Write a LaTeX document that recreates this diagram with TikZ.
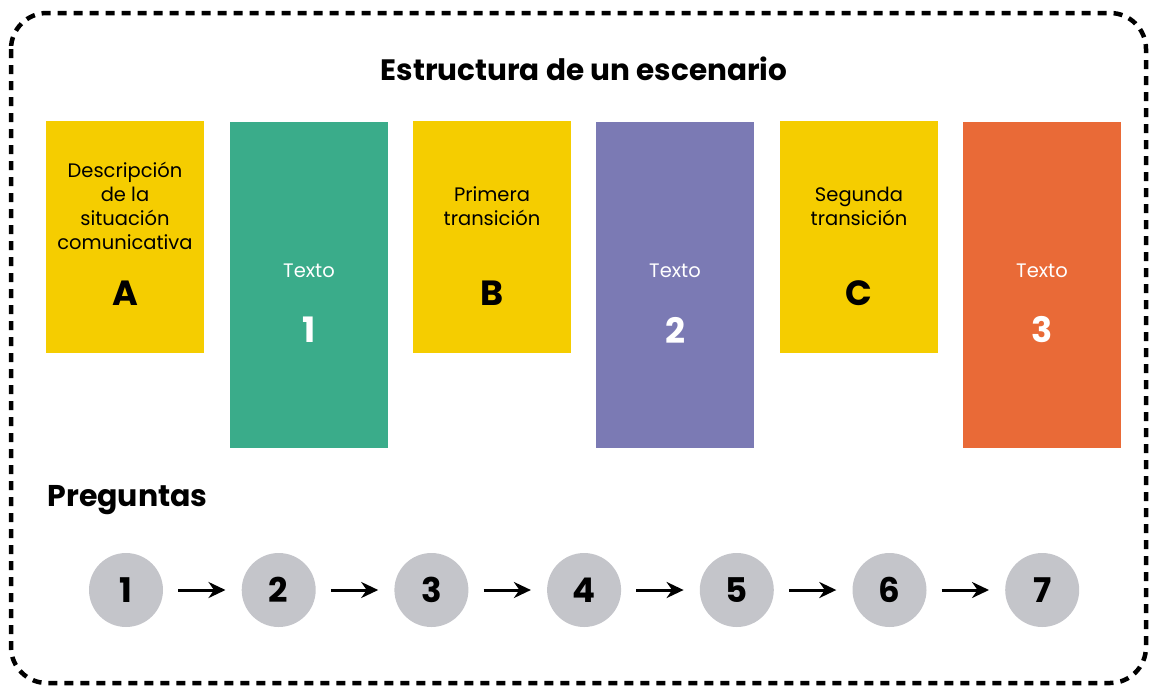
\documentclass[tikz,border=0pt]{standalone}
\usepackage{fontspec}
\setmainfont{Poppins}
\usetikzlibrary{arrows.meta,positioning}
\definecolor{amarillo}{HTML}{F5CD00}
\definecolor{verde}{HTML}{3AAC8A}
\definecolor{morado}{HTML}{7B7AB4}
\definecolor{naranja}{HTML}{E96A37}
\definecolor{gris}{HTML}{C4C5CA}
\tikzset{
  caja/.style={inner sep=0pt, minimum width=158pt},
  cajacorta/.style={caja, minimum height=232pt},
  cajalarga/.style={caja, minimum height=326pt},
  textocaja/.style={align=center, font=\fontsize{19.5}{24}\selectfont},
  letra/.style={font=\fontsize{35}{40}\selectfont\bfseries},
  pregunta/.style={circle, fill=gris, minimum size=74pt, inner sep=0pt, font=\fontsize{34}{40}\selectfont\bfseries},
  flecha/.style={-{Stealth[length=17pt,width=16pt]}, line width=3pt, shorten <=15pt, shorten >=16pt}
}
\begin{document}
\begin{tikzpicture}[x=1pt,y=-1pt]
\useasboundingbox (0,0) rectangle (1156,686);
% borde punteado
\draw[line width=4.5pt, dash pattern=on 9pt off 7pt, rounded corners=36pt] (11,13) rectangle (1146,683);
\node[font=\fontsize{29.5}{32}\selectfont\bfseries] (titulo) at (584,69) {Estructura de un escenario};

% cajas de la estructura
\node[cajacorta, fill=amarillo] (cajaA) at (125,237) {};
\node[cajalarga, fill=verde] (texto1) at (309,285) {};
\node[cajacorta, fill=amarillo] (cajaB) at (492,237) {};
\node[cajalarga, fill=morado] (texto2) at (675,285) {};
\node[cajacorta, fill=amarillo] (cajaC) at (859,237) {};
\node[cajalarga, fill=naranja] (texto3) at (1042,285) {};

\node[textocaja] (descA) at (125,206) {Descripción\\de la\\situación\\comunicativa};
\node[letra] (letraA) at (125,293) {A};
\node[textocaja] (descB) at (492,206) {Primera\\transición};
\node[letra] (letraB) at (492,293) {B};
\node[textocaja] (descC) at (859,206) {Segunda\\transición};
\node[letra] (letraC) at (859,293) {C};

\foreach \n/\x in {1/309,2/675,3/1042}{
  \node[textocaja, text=white] (etiqueta\n) at (\x,271) {Texto};
  \node[letra, text=white] (numero\n) at (\x,330) {\n};
}

% preguntas
\node[anchor=west, font=\fontsize{30}{32}\selectfont\bfseries] (preguntas) at (44,500) {Preguntas};
\foreach \i in {1,...,7}{
  \node[pregunta] (p\i) at ({126+152.7*(\i-1)},590) {\i};
}
\foreach \i [evaluate=\i as \j using int(\i+1)] in {1,...,6}{
  \draw[flecha] (p\i) -- (p\j);
}
\end{tikzpicture}
\end{document}
